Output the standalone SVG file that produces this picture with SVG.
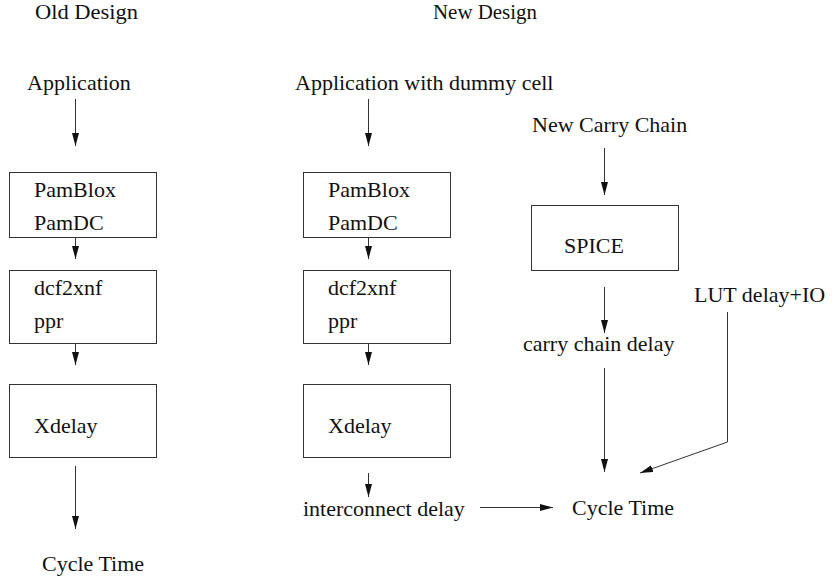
<svg xmlns="http://www.w3.org/2000/svg" width="832" height="580" viewBox="0 0 832 580">
<style>
text{font-family:'Liberation Serif','DejaVu Serif',serif;font-size:22px;fill:#111}
.hd{font-size:20px}
.box{fill:none;stroke:#333;stroke-width:1}
.c line,.c polyline{fill:none;stroke:#333;stroke-width:1;marker-end:url(#ah)}
</style>
<defs>
<marker id="ah" markerUnits="userSpaceOnUse" markerWidth="14" markerHeight="8" refX="13" refY="3.5" orient="auto">
<path d="M0,0 L13,3.5 L0,7 z" fill="#111"/>
</marker>
</defs>
<rect x="0" y="0" width="832" height="580" fill="#fff"/>
<g id="hdr-old"><text class="hd" x="35" y="18.5" textLength="103" lengthAdjust="spacingAndGlyphs">Old Design</text></g>
<g id="hdr-new"><text class="hd" x="433" y="18.5" textLength="104" lengthAdjust="spacingAndGlyphs">New Design</text></g>
<g id="old-app"><text x="27" y="90">Application</text></g>
<g id="old-pam"><rect class="box" x="9.5" y="172.5" width="147" height="65"/><text x="34" y="197">PamBlox</text><text x="34" y="230">PamDC</text></g>
<g id="old-dcf"><rect class="box" x="9.5" y="270.5" width="147" height="73"/><text x="34" y="295">dcf2xnf</text><text x="34" y="328">ppr</text></g>
<g id="old-xdelay"><rect class="box" x="9.5" y="384.5" width="147" height="73"/><text x="34" y="433">Xdelay</text></g>
<g id="old-cycle"><text x="42" y="571">Cycle Time</text></g>
<g id="new-app"><text x="295" y="90">Application with dummy cell</text></g>
<g id="new-pam"><rect class="box" x="303.5" y="172.5" width="147" height="65"/><text x="328" y="197">PamBlox</text><text x="328" y="230">PamDC</text></g>
<g id="new-dcf"><rect class="box" x="303.5" y="270.5" width="147" height="73"/><text x="328" y="295">dcf2xnf</text><text x="328" y="328">ppr</text></g>
<g id="new-xdelay"><rect class="box" x="303.5" y="384.5" width="147" height="73"/><text x="328" y="433">Xdelay</text></g>
<g id="interconnect"><text x="303" y="516">interconnect delay</text></g>
<g id="carry"><text x="532" y="132">New Carry Chain</text></g>
<g id="spice"><rect class="box" x="531.5" y="205.5" width="147" height="65"/><text x="564" y="253">SPICE</text></g>
<g id="carry-delay"><text x="523" y="351">carry chain delay</text></g>
<g id="lut"><text x="694" y="302">LUT delay+IO</text></g>
<g id="new-cycle"><text x="572" y="515">Cycle Time</text></g>
<g class="c" id="connectors">
<line x1="75.5" y1="99" x2="75.5" y2="146"/>
<line x1="75.5" y1="238" x2="75.5" y2="259"/>
<line x1="75.5" y1="344" x2="75.5" y2="365"/>
<line x1="75.5" y1="466" x2="75.5" y2="529"/>
<line x1="368.5" y1="99" x2="368.5" y2="146"/>
<line x1="368.5" y1="238" x2="368.5" y2="259"/>
<line x1="368.5" y1="344" x2="368.5" y2="365"/>
<line x1="368.5" y1="473" x2="368.5" y2="497"/>
<line x1="480" y1="507.5" x2="553" y2="507.5"/>
<line x1="604.5" y1="148" x2="604.5" y2="195"/>
<line x1="604.5" y1="287" x2="604.5" y2="333"/>
<line x1="604.5" y1="368" x2="604.5" y2="472"/>
<polyline points="727.5,312 727.5,442 640,473"/>
</g>
</svg>
